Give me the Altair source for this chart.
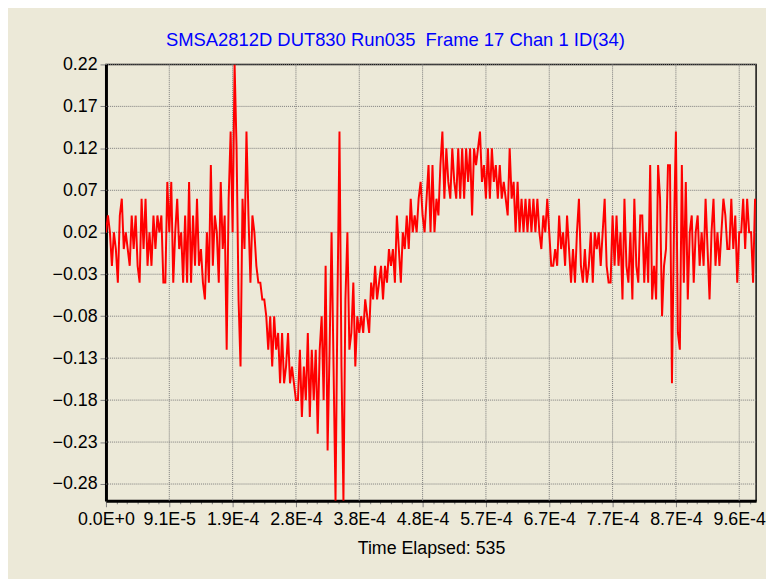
import altair as alt
import pandas as pd

# signal values (quantised ~0.02 steps), in order left -> right
SEG_A = [0.02, 0.04, 0.02, -0.02, 0.02, 0.0, -0.04, 0.04, 0.06, 0.0,
         0.02, 0.0, -0.02, 0.04, 0.0, 0.04, -0.02, -0.04, 0.06, 0.0,
         0.06, -0.02, 0.02, -0.02, 0.04, 0.0, 0.04, 0.02, 0.04, -0.04,
         -0.04]
SEG_B = [0.08, 0.02, 0.08, -0.04, 0.02, 0.06, 0.0, 0.02, -0.04, 0.04,
         -0.04, 0.08, -0.04, 0.04, -0.02, 0.06, -0.02, 0.0, -0.04, -0.06,
         0.02, -0.04, 0.10, -0.02, 0.04, 0.02, -0.04, 0.08, 0.0, 0.04,
         -0.12, 0.06, 0.14, 0.02, 0.22, 0.12, -0.06, -0.14, 0.06, 0.0,
         0.14, 0.04, -0.04, 0.04, 0.02, -0.02, -0.04, -0.04, -0.06, -0.06]
SEG_C = [-0.08, -0.12, -0.08, -0.14, -0.08, -0.12, -0.10, -0.16, -0.10, -0.16,
         -0.14, -0.10, -0.16, -0.14, -0.16, -0.18, -0.18, -0.12, -0.20, -0.14,
         -0.18, -0.10, -0.20, -0.12, -0.18, -0.12, -0.22, -0.12, -0.08, -0.18,
         -0.02, -0.24, -0.12, 0.02, -0.14, -0.30, -0.06, 0.14, -0.14, -0.30,
         -0.06, 0.02, -0.12, -0.10, -0.04, -0.14, -0.08, -0.10, -0.08, -0.10,
         -0.06, -0.08, -0.10, -0.04, -0.06, -0.02, -0.06, -0.04, -0.02, -0.06,
         -0.02, -0.04, 0.0, -0.02, 0.0, -0.04, 0.04, 0.0, -0.04, 0.02,
         0.0, 0.04, 0.0, 0.06, 0.02, 0.04, 0.02, 0.06, 0.08, 0.04,
         0.02, 0.06, 0.10, 0.02, 0.10]
SEG_D = [0.02, 0.06, 0.04, 0.10, 0.14, 0.06, 0.12, 0.08, 0.06, 0.12,
         0.08, 0.06, 0.12, 0.06, 0.12, 0.06, 0.12, 0.08, 0.12, 0.04,
         0.12, 0.10, 0.12, 0.14, 0.08, 0.10, 0.06, 0.12, 0.06, 0.12,
         0.08, 0.10, 0.06, 0.10, 0.06, 0.08, 0.06, 0.04, 0.12, 0.06,
         0.08, 0.02, 0.08, 0.02, 0.06, 0.02, 0.06, 0.02, 0.06, 0.02,
         0.06, 0.02, 0.06, 0.02, 0.0, 0.04, 0.02, 0.06, 0.02, -0.02,
         -0.02, 0.0, -0.02, 0.04, 0.0, 0.02, -0.02, 0.04, 0.0, -0.04,
         0.0, -0.04, 0.02, 0.06, -0.02, -0.04, 0.0, -0.04, -0.02, 0.02,
         -0.04]
SEG_E = [0.02, 0.0, 0.02, -0.02, 0.02, 0.06, -0.02, -0.04, -0.04, 0.04,
         -0.02, 0.04, -0.02, 0.02, -0.06, 0.06, -0.02, -0.04, 0.02, -0.06,
         0.06, -0.02, -0.04, 0.04, 0.04, -0.04, 0.02, -0.04, 0.10, -0.06,
         -0.02, -0.06, 0.10, 0.06, -0.08, -0.02, 0.0, 0.10, 0.10, -0.16,
         0.02, 0.14, -0.10, -0.12, 0.10, -0.04, 0.08, -0.06, 0.02, 0.04,
         -0.04, 0.02, 0.04, -0.02, 0.02, -0.02, 0.06, 0.0, -0.06, 0.02,
         0.06, -0.02, 0.02, -0.02, 0.02, 0.06, 0.04, 0.0, 0.0, 0.06,
         0.0, 0.04, -0.04, 0.02, 0.02, 0.06, 0.0, 0.06, 0.02, 0.02,
         -0.04, 0.06]
VALUES = SEG_A + SEG_B + SEG_C + SEG_D + SEG_E

TICK_STEP = 9.57e-5          # spacing of the labelled x ticks (seconds)
SAMPLE_DT = TICK_STEP / 32   # sample interval
X_MAX = 9.825e-4
X_LABELS = ["0.0E+0", "9.1E-5", "1.9E-4", "2.8E-4", "3.8E-4", "4.8E-4",
            "5.7E-4", "6.7E-4", "7.7E-4", "8.7E-4", "9.6E-4"]
Y_TICKS = [0.22, 0.17, 0.12, 0.07, 0.02, -0.03, -0.08, -0.13, -0.18, -0.23, -0.28]
Y_MIN, Y_MAX = -0.30, 0.22
TITLE = "SMSA2812D DUT830 Run035 \u00a0Frame 17 Chan 1 ID(34)"
X_TITLE = "Time Elapsed: 535"

FONT = "Liberation Sans"
BG = "#ECE9D8"

df = pd.DataFrame({"t": [i * SAMPLE_DT for i in range(len(VALUES))], "v": VALUES})
x_major = [k * TICK_STEP for k in range(len(X_LABELS))]
x_all = [k * TICK_STEP / 6 for k in range(62)]
vgrid = pd.DataFrame({"t": x_major[1:]})
hgrid = pd.DataFrame({"v": Y_TICKS})

arr = "[" + ",".join(f"'{s}'" for s in X_LABELS) + "]"
is_major = f"abs(datum.value/{TICK_STEP} - round(datum.value/{TICK_STEP})) < 0.02"
label_expr = f"{is_major} ? {arr}[round(datum.value/{TICK_STEP})] : ''"

x_scale = alt.Scale(domain=[0, X_MAX], nice=False, zero=False)
y_scale = alt.Scale(domain=[Y_MIN, Y_MAX], nice=False, zero=False)

x_axis = alt.Axis(
    values=x_all, labelExpr=label_expr, grid=False, title=X_TITLE,
    tickSize={"condition": {"test": is_major, "value": 6}, "value": 3},
    tickColor="#808080", domainColor="#000000", domainWidth=3,
    labelFlush=False, labelOverlap=False, labelPadding=4, titlePadding=11,
)
y_axis = alt.Axis(
    values=Y_TICKS, format=".2f", grid=False, title=None,
    tickSize=6, tickColor="#808080", domainColor="#000000", domainWidth=3,
    labelOverlap=False, labelPadding=3,
)

grid_style = dict(color="#7a7a7a", strokeWidth=1, strokeDash=[1, 1])

line = alt.Chart(df).mark_line(color="#FF0000", strokeWidth=2, clip=True).encode(
    x=alt.X("t:Q", scale=x_scale, axis=x_axis),
    y=alt.Y("v:Q", scale=y_scale, axis=y_axis),
)
vrules = alt.Chart(vgrid).mark_rule(**grid_style).encode(
    x=alt.X("t:Q", scale=x_scale, axis=x_axis)
)
hrules = alt.Chart(hgrid).mark_rule(**grid_style).encode(
    y=alt.Y("v:Q", scale=y_scale, axis=y_axis)
)

chart = alt.layer(vrules, hrules, line).properties(
    width=657, height=441,
    autosize="none",
    padding={"left": 99, "top": 54, "right": 10, "bottom": 76},
    title=alt.Title(TITLE, color="#0000FF", font=FONT, fontSize=18.6,
                    fontWeight="normal", anchor="middle", dx=-36, offset=6),
).configure(background=BG).configure_view(
    fill=BG, stroke="#111111", strokeWidth=1.5
).configure_axis(
    labelFont=FONT, labelFontSize=18, labelColor="#000000",
    titleFont=FONT, titleFontSize=18, titleFontWeight="normal", titleColor="#000000",
)

chart.save("out.html", embed_options={"renderer": "svg", "actions": False})
